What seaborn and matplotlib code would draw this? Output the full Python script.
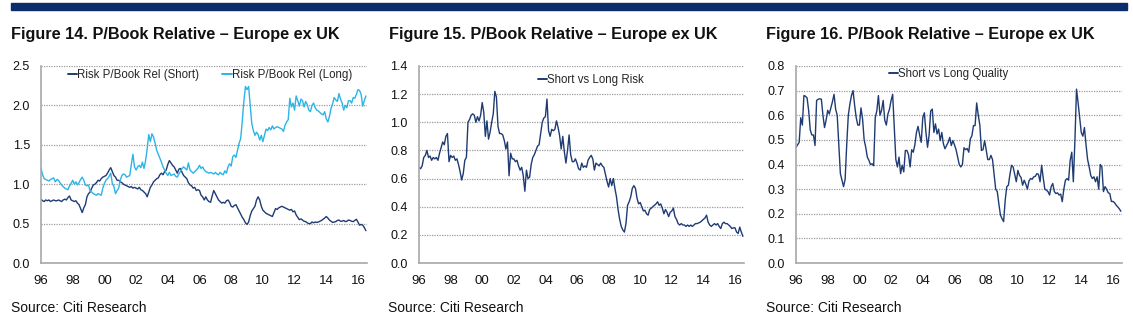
import numpy as np
import pandas as pd
import matplotlib
matplotlib.use("Agg")
import matplotlib.pyplot as plt
from matplotlib.patches import Rectangle
import seaborn as sns

# ---------------- data (observations every 0.1 year from 1996.0) ----------------
START_YEAR = 1996.0
STEP_YEARS = 0.1

risk_short = [
    0.81, 0.79, 0.78, 0.80, 0.79, 0.80, 0.78, 0.79, 0.80, 0.79,
    0.79, 0.80, 0.79, 0.78, 0.80, 0.81, 0.80, 0.83, 0.85, 0.80,
    0.79, 0.78, 0.79, 0.76, 0.74, 0.69, 0.64, 0.70, 0.74, 0.84,
    0.88, 0.90, 0.95, 0.99, 1.00, 1.02, 1.05, 1.04, 1.07, 1.09,
    1.10, 1.11, 1.14, 1.18, 1.21, 1.16, 1.11, 1.09, 1.05, 1.05,
    1.03, 1.02, 1.00, 0.99, 0.98, 0.97, 0.96, 0.97, 0.95, 0.96,
    0.95, 0.94, 0.96, 0.93, 0.92, 0.90, 0.88, 0.84, 0.90, 0.96,
    0.99, 1.03, 1.05, 1.07, 1.08, 1.12, 1.14, 1.12, 1.16, 1.18,
    1.25, 1.30, 1.27, 1.24, 1.22, 1.18, 1.14, 1.19, 1.20, 1.15,
    1.11, 1.09, 1.07, 1.02, 0.99, 0.98, 0.95, 0.96, 0.92, 0.93,
    0.92, 0.86, 0.84, 0.80, 0.84, 0.80, 0.78, 0.77, 0.85, 0.92,
    0.88, 0.84, 0.80, 0.78, 0.76, 0.77, 0.76, 0.79, 0.80, 0.77,
    0.72, 0.71, 0.73, 0.74, 0.70, 0.66, 0.62, 0.58, 0.55, 0.51,
    0.49, 0.52, 0.60, 0.66, 0.69, 0.72, 0.80, 0.84, 0.80, 0.72,
    0.67, 0.65, 0.63, 0.62, 0.61, 0.60, 0.59, 0.64, 0.69, 0.68,
    0.70, 0.71, 0.72, 0.71, 0.70, 0.69, 0.68, 0.67, 0.68, 0.65,
    0.66, 0.61, 0.58, 0.55, 0.56, 0.545, 0.53, 0.525, 0.51, 0.50,
    0.50, 0.52, 0.51, 0.52, 0.515, 0.52, 0.53, 0.54, 0.555, 0.57,
    0.59, 0.57, 0.545, 0.53, 0.515, 0.52, 0.525, 0.54, 0.545, 0.53,
    0.53, 0.54, 0.525, 0.53, 0.545, 0.54, 0.53, 0.525, 0.54, 0.555,
    0.52, 0.48, 0.49, 0.48, 0.45, 0.41,
]

risk_long = [
    1.20, 1.12, 1.07, 1.06, 1.05, 1.04, 1.06, 1.07, 1.08, 1.03,
    1.06, 1.05, 1.02, 0.99, 0.97, 0.95, 0.94, 0.93, 0.98, 1.01,
    1.05, 1.00, 1.03, 0.99, 1.02, 1.06, 1.09, 1.05, 0.99, 0.98,
    0.99, 0.91, 0.90, 0.88, 0.87, 0.86, 0.88, 0.87, 0.86, 0.95,
    1.01, 1.05, 1.07, 1.10, 1.14, 1.01, 0.97, 0.88, 0.92, 0.95,
    1.05, 1.11, 1.13, 1.12, 1.09, 1.10, 1.11, 1.25, 1.38, 1.22,
    1.18, 1.22, 1.24, 1.21, 1.28, 1.20, 1.30, 1.45, 1.63, 1.54,
    1.64, 1.60, 1.52, 1.43, 1.38, 1.33, 1.28, 1.22, 1.18, 1.14,
    1.11, 1.15, 1.11, 1.12, 1.13, 1.10, 1.09, 1.13, 1.16, 1.20,
    1.22, 1.20, 1.18, 1.27, 1.18, 1.16, 1.14, 1.16, 1.18, 1.20,
    1.24, 1.20, 1.22, 1.18, 1.16, 1.15, 1.14, 1.15, 1.14, 1.13,
    1.15, 1.13, 1.12, 1.15, 1.13, 1.12, 1.17, 1.14, 1.22, 1.26,
    1.23, 1.35, 1.37, 1.34, 1.43, 1.52, 1.58, 1.80, 2.05, 2.24,
    2.20, 2.24, 2.00, 1.77, 1.68, 1.62, 1.66, 1.63, 1.56, 1.62,
    1.54, 1.62, 1.70, 1.68, 1.72, 1.69, 1.74, 1.70, 1.72, 1.73,
    1.72, 1.71, 1.70, 1.67, 1.75, 1.79, 1.82, 2.09, 1.98, 2.03,
    1.94, 2.12, 2.06, 1.99, 2.08, 2.06, 1.98, 2.05, 2.01, 1.94,
    1.92, 2.00, 2.03, 1.97, 1.94, 1.93, 1.91, 1.89, 1.88, 1.92,
    1.83, 1.79, 1.86, 1.96, 2.02, 2.10, 2.07, 2.05, 2.15, 2.08,
    2.03, 1.94, 2.00, 1.97, 2.06, 2.06, 2.03, 2.10, 2.09, 2.14,
    2.20, 2.19, 2.14, 1.99, 2.06, 2.12,
]

short_vs_long_risk = [
    0.68, 0.67, 0.69, 0.75, 0.765, 0.80, 0.75, 0.76, 0.73, 0.75,
    0.74, 0.75, 0.73, 0.78, 0.82, 0.86, 0.84, 0.90, 0.92, 0.72,
    0.765, 0.75, 0.76, 0.73, 0.74, 0.70, 0.65, 0.59, 0.635, 0.73,
    0.75, 1.00, 1.02, 1.05, 1.06, 1.05, 1.00, 1.04, 1.01, 1.05,
    1.14, 1.07, 0.90, 1.01, 0.88, 0.93, 1.00, 1.06, 1.22, 1.18,
    0.97, 0.92, 0.92, 0.91, 0.87, 0.81, 0.86, 0.62, 0.78, 0.74,
    0.74, 0.72, 0.73, 0.69, 0.66, 0.68, 0.62, 0.51, 0.66, 0.60,
    0.61, 0.70, 0.75, 0.77, 0.80, 0.83, 0.84, 0.92, 1.00, 1.03,
    1.04, 1.165, 0.94, 0.90, 0.95, 0.94, 0.95, 1.01, 0.965, 0.905,
    0.81, 0.90, 0.79, 0.71, 0.80, 0.91, 0.77, 0.72, 0.72, 0.74,
    0.71, 0.67, 0.66, 0.71, 0.68, 0.69, 0.68, 0.73, 0.75, 0.765,
    0.74, 0.66, 0.71, 0.70, 0.69, 0.71, 0.69, 0.68, 0.63, 0.58,
    0.54, 0.60, 0.55, 0.60, 0.53, 0.47, 0.38, 0.31, 0.26, 0.235,
    0.22, 0.28, 0.41, 0.435, 0.47, 0.53, 0.55, 0.53, 0.46, 0.42,
    0.43, 0.40, 0.37, 0.375, 0.35, 0.34, 0.38, 0.39, 0.40, 0.41,
    0.42, 0.435, 0.41, 0.42, 0.39, 0.35, 0.38, 0.36, 0.33, 0.36,
    0.37, 0.39, 0.33, 0.31, 0.28, 0.27, 0.28, 0.27, 0.27, 0.26,
    0.27, 0.26, 0.27, 0.26, 0.27, 0.28, 0.28, 0.285, 0.29, 0.30,
    0.31, 0.32, 0.34, 0.29, 0.27, 0.26, 0.27, 0.28, 0.27, 0.28,
    0.26, 0.245, 0.28, 0.29, 0.28, 0.28, 0.27, 0.26, 0.245, 0.25,
    0.25, 0.22, 0.21, 0.255, 0.22, 0.19,
]

short_vs_long_quality = [
    0.47, 0.48, 0.49, 0.59, 0.56, 0.68, 0.677, 0.67, 0.618, 0.54,
    0.52, 0.52, 0.477, 0.66, 0.665, 0.667, 0.665, 0.60, 0.55, 0.58,
    0.62, 0.605, 0.63, 0.655, 0.685, 0.625, 0.60, 0.48, 0.363, 0.336,
    0.31, 0.34, 0.48, 0.60, 0.645, 0.68, 0.70, 0.64, 0.59, 0.56,
    0.56, 0.63, 0.585, 0.50, 0.47, 0.43, 0.417, 0.40, 0.403, 0.395,
    0.59, 0.618, 0.68, 0.60, 0.62, 0.66, 0.58, 0.56, 0.605, 0.625,
    0.66, 0.685, 0.55, 0.42, 0.39, 0.43, 0.363, 0.397, 0.37, 0.457,
    0.457, 0.44, 0.39, 0.46, 0.45, 0.48, 0.53, 0.555, 0.52, 0.49,
    0.59, 0.61, 0.53, 0.47, 0.52, 0.618, 0.625, 0.53, 0.565, 0.524,
    0.544, 0.497, 0.53, 0.484, 0.464, 0.477, 0.49, 0.51, 0.477, 0.497,
    0.48, 0.46, 0.43, 0.40, 0.39, 0.40, 0.468, 0.46, 0.465, 0.45,
    0.504, 0.517, 0.558, 0.558, 0.65, 0.60, 0.56, 0.457, 0.46, 0.497,
    0.46, 0.42, 0.42, 0.437, 0.42, 0.36, 0.30, 0.29, 0.24, 0.195,
    0.18, 0.168, 0.255, 0.31, 0.316, 0.36, 0.397, 0.39, 0.36, 0.33,
    0.376, 0.356, 0.347, 0.316, 0.336, 0.32, 0.30, 0.333, 0.343, 0.34,
    0.35, 0.352, 0.363, 0.36, 0.33, 0.397, 0.345, 0.30, 0.296, 0.29,
    0.276, 0.31, 0.323, 0.29, 0.282, 0.285, 0.276, 0.28, 0.249, 0.30,
    0.336, 0.343, 0.336, 0.417, 0.45, 0.33, 0.50, 0.706, 0.65, 0.59,
    0.53, 0.515, 0.55, 0.48, 0.42, 0.39, 0.355, 0.343, 0.35, 0.33,
    0.35, 0.30, 0.40, 0.39, 0.29, 0.31, 0.30, 0.285, 0.282, 0.25,
    0.25, 0.245, 0.235, 0.228, 0.22, 0.21,
]

series_names = [
    ["Risk P/Book Rel (Short)", "Risk P/Book Rel (Long)"],
    ["Short vs Long Risk"],
    ["Short vs Long Quality"],
]
titles = [
    "Figure 14. P/Book Relative \u2013 Europe ex UK",
    "Figure 15. P/Book Relative \u2013 Europe ex UK",
    "Figure 16. P/Book Relative \u2013 Europe ex UK",
]
source_text = "Source: Citi Research"
xtick_years = [1996, 1998, 2000, 2002, 2004, 2006, 2008, 2010, 2012, 2014, 2016]
xtick_labels = ["96", "98", "00", "02", "04", "06", "08", "10", "12", "14", "16"]
yticks_list = [
    [0.0, 0.5, 1.0, 1.5, 2.0, 2.5],
    [0.0, 0.2, 0.4, 0.6, 0.8, 1.0, 1.2, 1.4],
    [0.0, 0.1, 0.2, 0.3, 0.4, 0.5, 0.6, 0.7, 0.8],
]

# ---------------- style ----------------
NAVY = "#1f3b73"
CYAN = "#2cb4e6"
BAR = "#0b2d6b"
GRID = "#9c9c9c"
AXIS = "#a8a8a8"

sns.set_theme(style="white")
FONT = ["Liberation Sans", "DejaVu Sans"]
plt.rcParams["font.family"] = FONT

W, H = 1133, 322
fig = plt.figure(figsize=(W / 100, H / 100), dpi=100)

fig.patches.append(Rectangle((11 / W, 1 - 9.5 / H), (1127 - 11) / W, 6.5 / H,
                             transform=fig.transFigure, color=BAR, zorder=0))


def make_df(values, name):
    years = START_YEAR + np.arange(len(values)) * STEP_YEARS
    return pd.DataFrame({"year": years, "value": values, "series": name})


datasets = [
    pd.concat([make_df(risk_short, series_names[0][0]), make_df(risk_long, series_names[0][1])]),
    make_df(short_vs_long_risk, series_names[1][0]),
    make_df(short_vs_long_quality, series_names[2][0]),
]
palettes = [[NAVY, CYAN], [NAVY], [NAVY]]

panel_left_px = [41, 419, 796]
panel_width_px = [326, 325, 326]
title_x_px = [11, 389, 766]
source_x_px = [11, 388, 766]
legend_anchor = [(0.083, 0.952), (0.366, 0.929), (0.285, 0.96)]
ax_top, ax_bot = 66, 263

for i in range(3):
    ax = fig.add_axes([panel_left_px[i] / W, 1 - ax_bot / H,
                       panel_width_px[i] / W, (ax_bot - ax_top) / H])
    sns.lineplot(data=datasets[i], x="year", y="value", hue="series",
                 palette=palettes[i], linewidth=1.0, ax=ax)
    ax.set_xlim(1996.0, 2016.57)
    ax.set_ylim(yticks_list[i][0], yticks_list[i][-1])
    ax.set_xticks(xtick_years)
    ax.set_xticklabels(xtick_labels)
    ax.set_yticks(yticks_list[i])
    ax.set_yticklabels([f"{v:.1f}" for v in yticks_list[i]])
    ax.set_xlabel("")
    ax.set_ylabel("")
    ax.set_axisbelow(True)
    ax.yaxis.grid(True, linestyle=(0, (1, 1)), color=GRID, linewidth=0.9)
    ax.xaxis.grid(False)
    for s in ["top", "right"]:
        ax.spines[s].set_visible(False)
    for s in ["left", "bottom"]:
        ax.spines[s].set_color(AXIS)
        ax.spines[s].set_linewidth(1.2)
    ax.tick_params(axis="y", length=0, pad=8, labelsize=9, labelcolor="#111111")
    ax.tick_params(axis="x", length=3.5, width=1, color=AXIS, direction="out",
                   pad=5, labelsize=9.5, labelcolor="#111111")
    ax.set_facecolor("white")
    handles, labels = ax.get_legend_handles_labels()
    ax.legend(handles, labels, loc="center left", bbox_to_anchor=legend_anchor[i],
              ncol=len(labels), frameon=False, handlelength=0.8, handletextpad=0.0,
              columnspacing=2.0, borderpad=0, borderaxespad=0,
              prop={"family": FONT, "size": 8.3})
    for line in ax.get_legend().get_lines():
        line.set_linewidth(1.4)

    fig.text(title_x_px[i] / W, 1 - 38.5 / H, titles[i], ha="left", va="baseline",
             fontsize=11.7, fontweight="bold", color="#111111")
    fig.text(source_x_px[i] / W, 1 - 312.3 / H, source_text, ha="left", va="baseline",
             fontsize=10, color="#111111")

fig.savefig("out.png", dpi=100, facecolor="white")
